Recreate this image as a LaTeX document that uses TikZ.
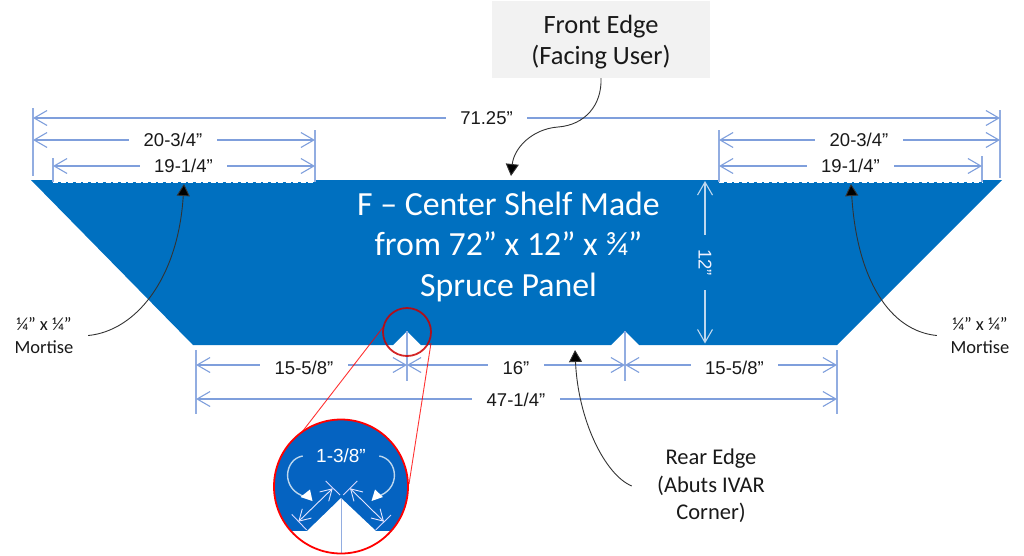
\documentclass[tikz,border=0pt]{standalone}
\usepackage{fontspec}
\setmainfont{Carlito}
\newfontfamily\dimfont{Liberation Sans}
\usetikzlibrary{arrows.meta}
\definecolor{panel}{HTML}{0070C0}
\definecolor{zoomblue}{HTML}{0563C1}
\definecolor{dimline}{HTML}{7F9FDC}
\definecolor{dimlight}{HTML}{BDD7EE}
\definecolor{boxgray}{HTML}{F2F2F2}
\tikzset{
  dimlab/.style={font=\dimfont\fontsize{18.5}{20}\selectfont,text=black!90,inner sep=0pt,minimum height=18pt},
  dimarrow/.style={draw=dimline,line width=1.1pt,-{Straight Barb[length=13pt,width=15pt,line width=1.1pt]}},
  extline/.style={draw=dimline!85,line width=1.1pt},
  lightarrow/.style={draw=dimlight,line width=1.1pt,-{Straight Barb[length=13pt,width=15pt,line width=1.1pt]}},
  zoomarrow/.style={draw=blue!10,line width=.9pt,{Straight Barb[length=11pt,width=13pt,line width=.9pt]}-{Straight Barb[length=11pt,width=13pt,line width=.9pt]}},
  zoomtick/.style={draw=blue!15,line width=.9pt},
  calltext/.style={font=\fontsize{18.5}{22.5}\selectfont,align=center,inner sep=0pt,text=black!90},
  callout/.style={draw=black!80,line width=.9pt,-{Triangle[length=12pt,width=13pt,fill=black]}},
  bendarrow/.style={draw=dimlight,line width=1.4pt},
  mortise/.style={draw=white,line width=1.1pt,dash pattern=on 5pt off 2.5pt},
  redline/.style={draw=red,line width=.9pt,opacity=.8},
}
\begin{document}
\begin{tikzpicture}[x=1pt,y=-1pt]
\useasboundingbox (0,0) rectangle (1024,555);
% panel
\fill[panel] (31,180) -- (1002,180) -- (837,345) -- (639,345) -- (625,331) -- (611,345)
  -- (421,345) -- (407,331) -- (393,345) -- (193,345) -- cycle;
\coordinate (mlA) at (53,182.5); \coordinate (mlB) at (315,182.5);
\coordinate (mrA) at (719,182.5); \coordinate (mrB) at (982,182.5);
\fill[white] (53,180) rectangle (315,182);
\fill[white] (719,180) rectangle (982,182);
\draw[mortise] (mlA) -- (mlB);
\draw[mortise] (mrA) -- (mrB);
% extension lines
\draw[extline] (33,108) -- (33,176);
\draw[extline] (1000,110) -- (1000,178);
\draw[extline] (315,130) -- (315,182);
\draw[extline] (53,158) -- (53,182);
\draw[extline] (719,130) -- (719,182);
\draw[extline] (982,156) -- (982,182);
\draw[extline] (196,350) -- (196,414);
\draw[extline] (837,350) -- (837,414);
\draw[extline] (407,331) -- (407,381);
\draw[extline] (625,331) -- (625,381);
% dimension labels
\node[dimlab,minimum width=81pt] (dTotal) at (486.5,118) {71.25”};
\node[dimlab,minimum width=88pt] (dLa) at (173,140) {20-3/4”};
\node[dimlab,minimum width=87pt] (dLb) at (183.5,166) {19-1/4”};
\node[dimlab,minimum width=88pt] (dRa) at (859,140) {20-3/4”};
\node[dimlab,minimum width=87pt] (dRb) at (850.5,166) {19-1/4”};
\node[dimlab,minimum width=88pt] (dBa) at (304,368) {15-5/8”};
\node[dimlab,minimum width=56pt] (dBb) at (516,368) {16”};
\node[dimlab,minimum width=87pt] (dBc) at (734.5,368) {15-5/8”};
\node[dimlab,minimum width=88pt] (dBt) at (516,400) {47-1/4”};
% end points
\coordinate (tL) at (33,118); \coordinate (tR) at (1000,118);
\coordinate (aL) at (33,140); \coordinate (aM) at (315,140);
\coordinate (bL) at (53,166); \coordinate (bM) at (315,166);
\coordinate (cM) at (719,140); \coordinate (cR) at (1000,140);
\coordinate (eM) at (719,166); \coordinate (eR) at (982,166);
\coordinate (fL) at (196,365); \coordinate (fA) at (407,365);
\coordinate (fB) at (625,365); \coordinate (fR) at (837,365);
\coordinate (gL) at (196,399); \coordinate (gR) at (837,399);
\draw[dimarrow] (dTotal.west) -- (tL);
\draw[dimarrow] (dTotal.east) -- (tR);
\draw[dimarrow] (dLa.west) -- (aL);
\draw[dimarrow] (dLa.east) -- (aM);
\draw[dimarrow] (dLb.west) -- (bL);
\draw[dimarrow] (dLb.east) -- (bM);
\draw[dimarrow] (dRa.west) -- (cM);
\draw[dimarrow] (dRa.east) -- (cR);
\draw[dimarrow] (dRb.west) -- (eM);
\draw[dimarrow] (dRb.east) -- (eR);
\draw[dimarrow] (dBa.west |- fL) -- (fL);
\draw[dimarrow] (dBa.east |- fA) -- (fA);
\draw[dimarrow] (dBb.west |- fA) -- (fA);
\draw[dimarrow] (dBb.east |- fB) -- (fB);
\draw[dimarrow] (dBc.west |- fB) -- (fB);
\draw[dimarrow] (dBc.east |- fR) -- (fR);
\draw[dimarrow] (dBt.west |- gL) -- (gL);
\draw[dimarrow] (dBt.east |- gR) -- (gR);
% 12 inch
\node[dimlab,text=blue!5,rotate=-90,minimum width=55pt] (dH) at (705,262.5) {12”};
\coordinate (hT) at (705,181); \coordinate (hB) at (705,343.5);
\draw[lightarrow] (dH.west) -- (hT);
\draw[lightarrow] (dH.east) -- (hB);
% panel text
\node[align=center,text=white,inner sep=0pt,font=\fontsize{33.8}{40.5}\selectfont] (title) at (508.5,246.5)
  {F – Center Shelf Made\\from 72” x 12” x ¾”\\Spruce Panel};
% front box
\node[fill=boxgray,minimum width=218pt,minimum height=77pt,inner sep=0pt] (front) at (601,39.5) {};
\node[inner sep=0pt,align=center,font=\fontsize{26.4}{31}\selectfont,text=black!90] (frontText) at (601,42.5) {Front Edge\\(Facing User)};
\coordinate (frontMid) at (558,127); \coordinate (frontTip) at (511,176);
\draw[callout] (front.south) .. controls (602,105) and (585,125) .. (frontMid)
  .. controls (532,129) and (514,148) .. (frontTip);
% mortise callouts
\node[calltext,minimum width=88pt] (mortL) at (44,335.5) {¼” x ¼”\\Mortise};
\node[calltext,minimum width=86pt] (mortR) at (980,335.5) {¼” x ¼”\\Mortise};
\coordinate (mortLt) at (184,184); \coordinate (mortRt) at (851,184);
\draw[callout] (mortL.east) .. controls (135,331) and (178,280) .. (mortLt);
\draw[callout] (mortR.west) .. controls (890,331) and (857,280) .. (mortRt);
% rear callout
\node[calltext,font=\fontsize{22.5}{27.5}\selectfont,minimum width=158pt] (rear) at (711,486) {Rear Edge\\(Abuts IVAR\\Corner)};
\coordinate (rearT) at (575,350);
\draw[callout] (rear.west) .. controls (605,475) and (578,420) .. (rearT);
% zoom
\coordinate (zc) at (341,486.5);
\coordinate (smallc) at (407,332);
\draw[redline] (384,326) -- (302,432);
\draw[redline] (431,343) -- (409,484);
\begin{scope}
\clip (zc) circle[radius=67];
\fill[zoomblue] (270,415) rectangle (412,530.5);
\fill[white] (307,531) -- (341,498) -- (376,531) -- cycle;
\end{scope}
\draw[extline,line width=.9pt] (341,498) -- (341,553);
\node[dimlab,text=white,font=\dimfont\fontsize{19}{20}\selectfont] (zlab) at (341,456) {1-3/8”};
\coordinate (zA) at (298.3,521.7); \coordinate (zB) at (332.7,488.3);
\coordinate (zC) at (350,488.3); \coordinate (zD) at (384,521.7);
\draw[zoomarrow] (zA) -- (zB);
\draw[zoomarrow] (zC) -- (zD);
\draw[zoomtick] (325.7,481) -- (340,495);
\draw[zoomtick] (291.7,514.3) -- (306.7,530);
\draw[zoomtick] (357.3,481) -- (343.3,495);
\draw[zoomtick] (391,515) -- (375.7,530);
\draw[bendarrow] (302.7,456) .. controls (284,459) and (280,490) .. (306,497);
\fill[white] (300.5,497) -- (310,489.5) -- (312.5,501) -- cycle;
\draw[bendarrow] (379.3,456) .. controls (398,459) and (402,490) .. (376,497);
\fill[white] (383,497) -- (375,489.5) -- (371.5,501) -- cycle;
\draw[draw=red,line width=1.8pt] (zc) circle[radius=67];
\draw[draw=red!80!black,line width=1.8pt,opacity=.85] (smallc) circle[radius=24];
\end{tikzpicture}
\end{document}
